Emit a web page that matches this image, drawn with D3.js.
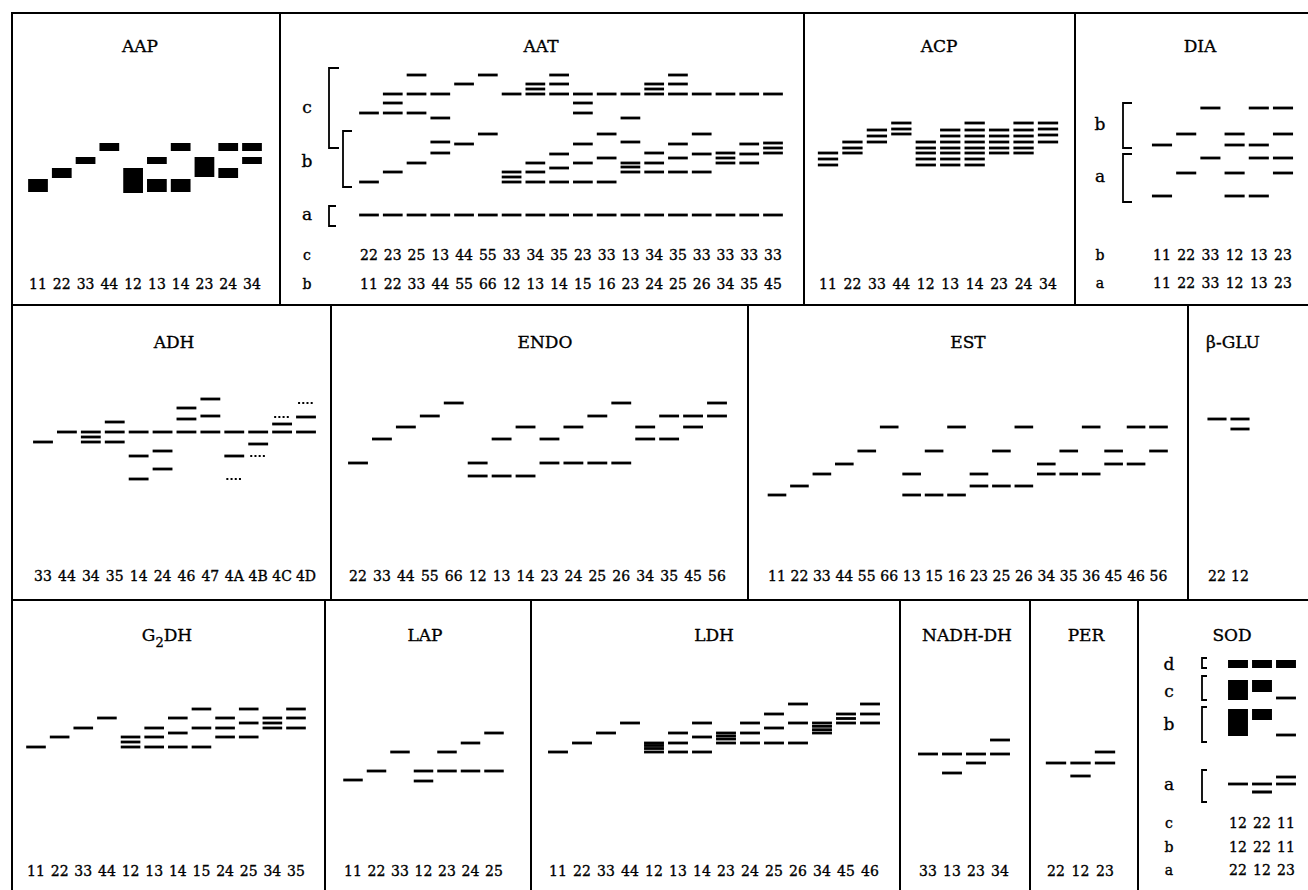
<!DOCTYPE html>
<html>
<head>
<meta charset="utf-8">
<script src="https://cdnjs.cloudflare.com/ajax/libs/d3/7.8.5/d3.min.js"></script>
<style>
  body { margin: 0; background: #fff; }
  text { font-family: "DejaVu Serif", "Liberation Serif", serif; fill: #000; stroke: #000; stroke-width: 0.35px; }
</style>
</head>
<body>
<script>
// band positions are relative mobility (units above the row origin)
// a number = thin band, [lo, hi] = thick block

var aapLabels = ['11','22','33','44','12','13','14','23','24','34'];
var aapBands = [[[100,113]],[[114,124]],[[128,135]],[[141,149]],[[99,124]],
  [[128,135],[100,113]],[[141,149],[100,113]],[[115,135]],[[141,149],[114,124]],[[141,149],[128,135]]];

var aatLabelsC = ['22','23','25','13','44','55','33','34','35','23','33','13','34','35','33','33','33','33'];
var aatLabelsB = ['11','22','33','44','55','66','12','13','14','15','16','23','24','25','26','34','35','45'];
var aatC = [[179],[198,189,179],[217,198,179],[198,174],[208],[217],[198],[208,203,198],[217,208,198],
  [198,189,179],[198],[198,174],[208,203,198],[217,208,198],[198],[198],[198],[198]];
var aatB = [[110],[120],[129],[150,139],[148],[158],[120,115,110],[129,120,110],[138,124,110],
  [148,129,110],[158,134,110],[150,129,125,120],[139,129,120],[148,134,120],[158,138,120],
  [139,134,129],[148,138,129],[149,144,139]];
var aatA = [[77],[77],[77],[77],[77],[77],[77],[77],[77],[77],[77],[77],[77],[77],[77],[77],[77],[77]];

var acpLabels = ['11','22','33','44','12','13','14','23','24','34'];
var acpBands = [[139,133,127],[150,144,139],[162,156,150],[169,163,158],[150,144,139,133,127],
  [162,156,150,144,139,133,127],[169,162,156,150,144,139,133,127],[162,156,150,144,139],
  [169,162,156,150,144,139],[169,163,157,150]];

var diaLabels = ['11','22','33','12','13','23'];
var diaB = [[147],[158],[184],[158,147],[184,147],[184,158]];
var diaA = [[96],[119],[134],[119,96],[134,96],[134,119]];

var adhLabels = ['33','44','34','35','14','24','46','47','4A','4B','4C','4D'];
var adhBands = [[142],[152],[152,147,142],[162,152,142],[152,128,105],[152,133,115],[176,165,152],
  [185,168,152],[152,128],[152,140],[160,152],[167,152]];
var adhFaint = [[],[],[],[],[],[],[],[],[105],[128],[167],[181]];

var endoLabels = ['22','33','44','55','66','12','13','14','23','24','25','26','34','35','45','56'];
var endoBands = [[121],[145],[157],[168],[181],[121,108],[145,108],[157,108],[145,121],[157,121],
  [168,121],[181,121],[157,145],[168,145],[168,157],[181,168]];

var estLabels = ['11','22','33','44','55','66','13','15','16','23','25','26','34','35','36','45','46','56'];
var estBands = [[89],[98],[110],[120],[133],[157],[110,89],[133,89],[157,89],[110,98],[133,98],
  [157,98],[120,110],[133,110],[157,110],[133,120],[157,120],[157,133]];

var gluLabels = ['22','12'];
var gluBands = [[165],[165,155]];

var g2dhLabels = ['11','22','33','44','12','13','14','15','24','25','34','35'];
var g2dhBands = [[133],[143],[152],[162],[143,138,133],[152,143,133],[162,147,133],[171,152,133],
  [162,152,143],[171,157,143],[162,157,152],[171,162,152]];

var lapLabels = ['11','22','33','12','23','24','25'];
var lapBands = [[100],[109],[128],[109,99],[128,109],[137,109],[147,109]];

var ldhLabels = ['11','22','33','44','12','13','14','23','24','25','26','34','45','46'];
var ldhBands = [[128],[137],[147],[157],[137,134.5,131.5,128],[147,137,128],[157,143,128],
  [147,144,141,137],[157,147,137],[166,152,137],[176,157,137],[157,153.7,150.3,147],[166,161.5,157],[176,166,157]];

var nadhLabels = ['33','13','23','34'];
var nadhBands = [[126],[126,107],[126,117],[140,126]];

var perLabels = ['22','12','23'];
var perBands = [[117],[117,104],[128,117]];

var sodLabelsC = ['12','22','11'];
var sodLabelsB = ['12','22','11'];
var sodLabelsA = ['22','12','23'];
var sodD = [[[212,220]],[[212,220]],[[212,220]]];
var sodC = [[[180,200]],[[188,200]],[182]];
var sodB = [[[144,171]],[[160,171]],[145]];
var sodA = [[96],[96,[86.5,89.5]],[103,96]];

// ---------- layout ----------
var W = 1308, H = 890;
var rows = [
  {top: 13, bottom: 305, base: 292, title: 52, label: 289},
  {top: 305, bottom: 600, base: 584, title: 348, label: 581},
  {top: 600, bottom: 905, base: 880, title: 641, label: 876}
];
rows.forEach(function (r) {
  r.y = d3.scaleLinear().domain([0, 280]).range([r.base, r.base - 280]);
});

var panels = [
  {name: 'AAP', row: 0, x0: 12, x1: 280, tx: 140, first: 38, last: 252,
    sets: [{bands: aapBands}], rowsLab: [{labels: aapLabels}]},
  {name: 'AAT', row: 0, x0: 280, x1: 804, tx: 541, first: 369, last: 773, letterX: 307,
    sets: [{bands: aatC}, {bands: aatB}, {bands: aatA}],
    brackets: [{t: 'c', lo: 144, hi: 224, x: 329, tick: 10, ty: 113},
               {t: 'b', lo: 105, hi: 161, x: 343, tick: 9, ty: 167},
               {t: 'a', lo: 66, hi: 86, x: 329, tick: 7, ty: 220}],
    rowsLab: [{letter: 'c', labels: aatLabelsC, y: 260}, {letter: 'b', labels: aatLabelsB}]},
  {name: 'ACP', row: 0, x0: 804, x1: 1075, tx: 939, first: 828, last: 1048,
    sets: [{bands: acpBands}], rowsLab: [{labels: acpLabels}]},
  {name: 'DIA', row: 0, x0: 1075, x1: 1330, tx: 1200, first: 1162, last: 1283, letterX: 1100,
    sets: [{bands: diaB}, {bands: diaA}],
    brackets: [{t: 'b', lo: 144, hi: 189, x: 1123, tick: 9, ty: 130},
               {t: 'a', lo: 90, hi: 138, x: 1123, tick: 9, ty: 182}],
    rowsLab: [{letter: 'b', labels: diaLabels, y: 260}, {letter: 'a', labels: diaLabels, y: 288}]},
  {name: 'ADH', row: 1, x0: 12, x1: 331, tx: 174, first: 43, last: 306,
    sets: [{bands: adhBands}, {bands: adhFaint, faint: true}], rowsLab: [{labels: adhLabels}]},
  {name: 'ENDO', row: 1, x0: 331, x1: 748, tx: 545, first: 358, last: 717,
    sets: [{bands: endoBands}], rowsLab: [{labels: endoLabels}]},
  {name: 'EST', row: 1, x0: 748, x1: 1188, tx: 968, first: 777, last: 1158.5,
    sets: [{bands: estBands}], rowsLab: [{labels: estLabels}]},
  {name: '\u03b2-GLU', row: 1, x0: 1188, x1: 1330, tx: 1233, first: 1217, last: 1240,
    sets: [{bands: gluBands}], rowsLab: [{labels: gluLabels}]},
  {name: 'G2DH', row: 2, x0: 12, x1: 325, tx: 167, first: 36, last: 296,
    sets: [{bands: g2dhBands}], rowsLab: [{labels: g2dhLabels}]},
  {name: 'LAP', row: 2, x0: 325, x1: 531, tx: 425, first: 353, last: 494,
    sets: [{bands: lapBands}], rowsLab: [{labels: lapLabels}]},
  {name: 'LDH', row: 2, x0: 531, x1: 900, tx: 714, first: 558, last: 870,
    sets: [{bands: ldhBands}], rowsLab: [{labels: ldhLabels}]},
  {name: 'NADH-DH', row: 2, x0: 900, x1: 1030, tx: 967, first: 928, last: 1000,
    sets: [{bands: nadhBands}], rowsLab: [{labels: nadhLabels}]},
  {name: 'PER', row: 2, x0: 1030, x1: 1138, tx: 1086, first: 1056, last: 1105,
    sets: [{bands: perBands}], rowsLab: [{labels: perLabels}]},
  {name: 'SOD', row: 2, x0: 1138, x1: 1330, tx: 1232, first: 1238, last: 1286, letterX: 1169,
    sets: [{bands: sodD}, {bands: sodC}, {bands: sodB}, {bands: sodA}],
    brackets: [{t: 'd', lo: 212, hi: 222, x: 1202, tick: 5, ty: 670},
               {t: 'c', lo: 180, hi: 204, x: 1202, tick: 5, ty: 697},
               {t: 'b', lo: 138, hi: 173, x: 1202, tick: 5, ty: 730},
               {t: 'a', lo: 78, hi: 110, x: 1202, tick: 5, ty: 790}],
    rowsLab: [{letter: 'c', labels: sodLabelsC, y: 828}, {letter: 'b', labels: sodLabelsB, y: 852},
              {letter: 'a', labels: sodLabelsA, y: 875}]}
];

var svg = d3.select('body').append('svg')
  .attr('width', W).attr('height', H)
  .style('background', '#fff');

var THIN = 2.8;

panels.forEach(function (p) {
  var r = rows[p.row];
  var y = r.y;
  var g = svg.append('g');
  var n = p.sets[0].bands.length;
  var x = d3.scalePoint().domain(d3.range(n)).range([p.first, p.last]);
  var step = n > 1 ? (p.last - p.first) / (n - 1) : 24;
  var bw = step * 0.83;

  // frame
  g.append('rect')
    .attr('x', p.x0).attr('y', r.top)
    .attr('width', p.x1 - p.x0).attr('height', r.bottom - r.top)
    .attr('fill', 'none').attr('stroke', '#000').attr('stroke-width', 2);

  // title
  var t = g.append('text')
    .attr('x', p.tx).attr('y', r.title)
    .attr('text-anchor', 'middle').style('font-size', '17px');
  if (p.name === 'G2DH') {
    t.append('tspan').text('G');
    t.append('tspan').attr('dy', 6).style('font-size', '13px').text('2');
    t.append('tspan').attr('dy', -6).text('DH');
  } else {
    t.text(p.name);
  }

  // bands
  p.sets.forEach(function (s) {
    s.bands.forEach(function (lane, i) {
      lane.forEach(function (b) {
        if (s.faint) {
          g.append('line')
            .attr('x1', x(i) - bw / 2 + 2).attr('x2', x(i) + bw / 2 - 3)
            .attr('y1', y(b)).attr('y2', y(b))
            .attr('stroke', '#000').attr('stroke-width', 2.2)
            .attr('stroke-dasharray', '2,2.2');
        } else if (Array.isArray(b)) {
          g.append('rect')
            .attr('x', x(i) - bw / 2).attr('width', bw)
            .attr('y', y(b[1])).attr('height', y(b[0]) - y(b[1]))
            .attr('fill', '#000');
        } else {
          g.append('rect')
            .attr('x', x(i) - bw / 2).attr('width', bw)
            .attr('y', y(b) - THIN / 2).attr('height', THIN)
            .attr('fill', '#000');
        }
      });
    });
  });

  // brackets
  (p.brackets || []).forEach(function (bk) {
    g.append('path')
      .attr('d', 'M' + (bk.x + bk.tick) + ',' + y(bk.hi) + 'H' + bk.x + 'V' + y(bk.lo) + 'H' + (bk.x + bk.tick))
      .attr('fill', 'none').attr('stroke', '#000').attr('stroke-width', 1.8);
    g.append('text')
      .attr('x', p.letterX).attr('y', bk.ty)
      .attr('text-anchor', 'middle').style('font-size', '17px')
      .text(bk.t);
  });

  // lane labels
  p.rowsLab.forEach(function (rl) {
    var ly = rl.y || r.label;
    if (rl.letter) {
      g.append('text')
        .attr('x', p.letterX).attr('y', ly)
        .attr('text-anchor', 'middle').style('font-size', '14px')
        .text(rl.letter);
    }
    g.selectAll(null)
      .data(rl.labels)
      .enter()
      .append('text')
      .attr('x', function (d, i) { return x(i); })
      .attr('y', ly)
      .attr('text-anchor', 'middle')
      .style('font-size', '14px')
      .text(function (d) { return d; });
  });
});
</script>
</body>
</html>
